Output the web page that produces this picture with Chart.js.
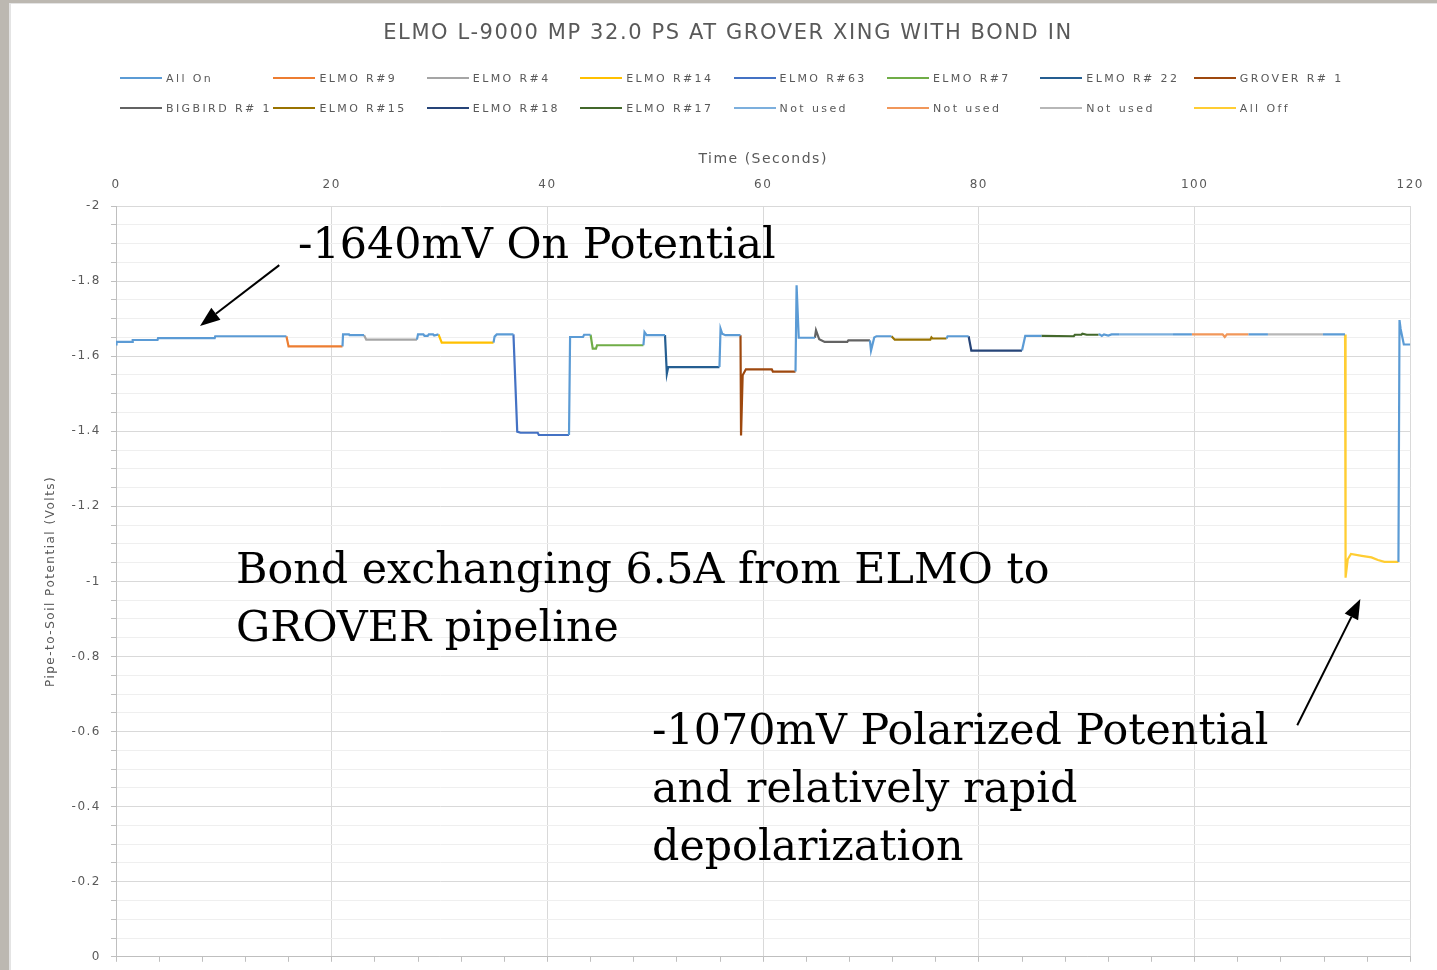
<!DOCTYPE html>
<html>
<head>
<meta charset="utf-8">
<title>ELMO L-9000 MP 32.0 PS AT GROVER XING WITH BOND IN</title>
<script src="https://cdn.jsdelivr.net/npm/chart.js@4.4.1/dist/chart.umd.min.js"></script>
<style>
  html, body { margin: 0; padding: 0; }
  body { width: 1437px; height: 970px; background: #bcb8b1; position: relative; overflow: hidden; }
  #panel { position: absolute; left: 9px; top: 3px; right: 0; bottom: 0; background: #fff; border-left: 2px solid #e4e4e4; border-top: 1px solid #e4e4e4; }
  #chart { position: absolute; left: 0; top: 0; }
  #title { position: absolute; left: 0; width: 1456px; top: 20px; text-align: center; font: 21px "DejaVu Sans", sans-serif; letter-spacing: 1.6px; color: #595959; white-space: nowrap; }
  #legend { position: absolute; left: 120px; top: 68px; width: 1240px; display: grid; grid-template-columns: repeat(8, 153.4px); grid-auto-rows: 30px; }
  .item { display: flex; align-items: center; height: 20px; font: 11px "DejaVu Sans", sans-serif; letter-spacing: 2.4px; color: #595959; white-space: nowrap; }
  .swatch { width: 42px; height: 2px; margin-right: 4px; flex: none; }
  .note { position: absolute; font: 42.8px "DejaVu Serif", serif; line-height: 58px; color: #000; white-space: nowrap; pointer-events: none; }
</style>
</head>
<body>
<div id="panel"></div>
<!-- canvas a few px larger than the window: the axes reserve label overhang on right/bottom -->
<canvas id="chart" width="1438" height="974"></canvas>
<div id="title">ELMO L-9000 MP 32.0 PS AT GROVER XING WITH BOND IN</div>
<div id="legend"></div>
<div class="note" style="left:298px; top:214px;">-1640mV On Potential</div>
<div class="note" style="left:236px; top:539px;">Bond exchanging 6.5A from ELMO to<br>GROVER pipeline</div>
<div class="note" style="left:652px; top:700px;">-1070mV Polarized Potential<br>and relatively rapid<br>depolarization</div>
<script>
  // ---- readings: [time (s), potential (V)], a null potential breaks the line ----
  const ALL_ON = [
    [0, -1.631], [0.05, -1.638], [1.5, -1.638], [1.55, -1.643], [3.85, -1.643], [3.9, -1.648],
    [9.15, -1.648], [9.2, -1.653], [15.8, -1.653], [15.8, null],
    [21.0, -1.626], [21.05, -1.658], [21.6, -1.658], [21.65, -1.656], [23.0, -1.656], [23.0, null],
    [27.9, -1.644], [28.0, -1.658], [28.5, -1.658], [28.6, -1.654], [28.9, -1.654], [29.0, -1.658],
    [29.4, -1.658], [29.5, -1.655], [29.9, -1.658], [29.9, null],
    [35.0, -1.636], [35.1, -1.652], [35.3, -1.658], [36.85, -1.658], [36.85, null],
    [42.0, -1.390], [42.1, -1.651], [43.3, -1.651], [43.4, -1.657], [44.0, -1.657], [44.0, null],
    [48.9, -1.629], [49.0, -1.664], [49.2, -1.656], [50.9, -1.656], [50.9, null],
    [55.95, -1.571], [56.05, -1.673], [56.2, -1.660], [56.5, -1.656], [57.9, -1.656], [57.9, null],
    [63.0, -1.559], [63.1, -1.789], [63.3, -1.649], [64.8, -1.649], [64.8, null],
    [69.9, -1.642], [70.0, -1.615], [70.3, -1.650], [70.5, -1.653], [71.9, -1.653], [71.9, null],
    [77.0, -1.647], [77.1, -1.653], [79.05, -1.653], [79.05, null],
    [84.0, -1.615], [84.3, -1.654], [85.8, -1.654], [85.8, null],
    [91.1, -1.657], [91.2, -1.658], [91.4, -1.654], [91.6, -1.658], [92.0, -1.655], [92.3, -1.658],
    [93.0, -1.658], [93.0, null],
    [98.0, -1.658], [99.75, -1.658], [99.75, null],
    [105.0, -1.658], [106.8, -1.658], [106.8, null],
    [111.9, -1.658], [113.95, -1.658], [113.95, null],
    [118.9, -1.052], [119.0, -1.696], [119.1, -1.673], [119.4, -1.631], [120, -1.631]
  ];
  const ELMO_R9 = [[15.8, -1.653], [16.0, -1.626], [21.0, -1.626]];
  const ELMO_R4 = [[23.0, -1.656], [23.2, -1.644], [27.9, -1.644]];
  const ELMO_R14 = [[29.9, -1.658], [30.2, -1.636], [35.0, -1.636]];
  const ELMO_R63 = [[36.85, -1.658], [37.2, -1.399], [37.5, -1.396], [39.1, -1.396], [39.2, -1.390], [42.0, -1.390]];
  const ELMO_R7 = [[44.0, -1.657], [44.2, -1.620], [44.5, -1.620], [44.6, -1.629], [48.9, -1.629]];
  const ELMO_R22 = [[50.9, -1.656], [51.07, -1.553], [51.2, -1.571], [55.95, -1.571]];
  const GROVER_R1 = [[57.9, -1.656], [57.95, -1.389], [58.1, -1.549], [58.4, -1.565], [60.8, -1.565], [60.9, -1.559], [63.0, -1.559]];
  const BIGBIRD_R1 = [[64.8, -1.649], [64.9, -1.669], [65.2, -1.645], [65.7, -1.638], [67.8, -1.638], [67.9, -1.642], [69.9, -1.642]];
  const ELMO_R15 = [[71.9, -1.653], [72.2, -1.644], [75.5, -1.644], [75.6, -1.650], [75.7, -1.647], [77.0, -1.647]];
  const ELMO_R18 = [[79.05, -1.653], [79.3, -1.615], [84.0, -1.615]];
  const ELMO_R17 = [[85.8, -1.654], [88.8, -1.653], [88.9, -1.657], [89.5, -1.657], [89.6, -1.660], [90.0, -1.657], [91.1, -1.657]];
  const NOT_USED_1 = [[93.0, -1.658], [98.0, -1.658]];
  const NOT_USED_2 = [[99.75, -1.658], [102.6, -1.658], [102.8, -1.651], [103.0, -1.658], [105.0, -1.658]];
  const NOT_USED_3 = [[106.8, -1.658], [111.9, -1.658]];
  const ALL_OFF = [[113.95, -1.658], [114.0, -1.010], [114.2, -1.059], [114.5, -1.073], [115.5, -1.068],
    [116.4, -1.064], [117.0, -1.057], [117.6, -1.052], [118.9, -1.052]];

  const SERIES_NAMES = ["All On", "ELMO R#9", "ELMO R#4", "ELMO R#14", "ELMO R#63", "ELMO R#7", "ELMO R# 22", "GROVER R# 1",
    "BIGBIRD R# 1", "ELMO R#15", "ELMO R#18", "ELMO R#17", "Not used", "Not used", "Not used", "All Off"];
  const SERIES_DATA = [ALL_ON, ELMO_R9, ELMO_R4, ELMO_R14, ELMO_R63, ELMO_R7, ELMO_R22, GROVER_R1,
    BIGBIRD_R1, ELMO_R15, ELMO_R18, ELMO_R17, NOT_USED_1, NOT_USED_2, NOT_USED_3, ALL_OFF];
  const SERIES_COLORS = ["#5B9BD5", "#ED7D31", "#A5A5A5", "#FFC000", "#4472C4", "#70AD47", "#255E91", "#9E480E",
    "#636363", "#997300", "#264478", "#43682B", "#7CAFDD", "#F1975A", "#B7B7B7", "#FFCD33"];

  // axis ranges / tick steps
  const X_MIN = 0, X_MAX = 120, X_STEP = 20, X_MINOR = 4;
  const Y_MIN = -2, Y_MAX = 0, Y_STEP = 0.2, Y_MINOR = 0.05;

  // callout arrows in data coordinates: tail -> head
  const ARROWS = [
    { from: [15.14, -1.8425], to: [7.79, -1.6804] },
    { from: [109.52, -0.6168], to: [115.37, -0.9533] }
  ];

  const GRAY_TEXT = "#595959";

  const datasets = SERIES_DATA.map((pts, i) => ({
    label: SERIES_NAMES[i],
    data: pts.map(p => ({ x: p[0], y: p[1] })),
    borderColor: SERIES_COLORS[i],
    backgroundColor: SERIES_COLORS[i],
    borderWidth: 2.2,
    pointRadius: 0,
    tension: 0,
    spanGaps: false,
    fill: false
  }));

  // legend laid out like the spreadsheet one: 8 fixed columns
  const legendEl = document.getElementById("legend");
  datasets.forEach(ds => {
    const item = document.createElement("div");
    item.className = "item";
    const sw = document.createElement("span");
    sw.className = "swatch";
    sw.style.background = ds.borderColor;
    item.appendChild(sw);
    item.appendChild(document.createTextNode(ds.label));
    legendEl.appendChild(item);
  });

  const spacing = {
    id: "spacing",
    beforeInit(chart) { chart.ctx.letterSpacing = "1.5px"; },
    beforeUpdate(chart) { chart.ctx.letterSpacing = "1.5px"; }
  };

  const arrows = {
    id: "arrows",
    afterDatasetsDraw(chart) {
      const { ctx } = chart;
      const xs = chart.scales.x, ys = chart.scales.y;
      ctx.save();
      ctx.strokeStyle = "#000";
      ctx.fillStyle = "#000";
      ctx.lineWidth = 2;
      for (const a of ARROWS) {
        const x0 = xs.getPixelForValue(a.from[0]), y0 = ys.getPixelForValue(a.from[1]);
        const x1 = xs.getPixelForValue(a.to[0]), y1 = ys.getPixelForValue(a.to[1]);
        const ang = Math.atan2(y1 - y0, x1 - x0);
        const head = 20, half = 7.5;
        const bx = x1 - head * Math.cos(ang), by = y1 - head * Math.sin(ang);
        ctx.beginPath();
        ctx.moveTo(x0, y0);
        ctx.lineTo(bx, by);
        ctx.stroke();
        ctx.beginPath();
        ctx.moveTo(x1, y1);
        ctx.lineTo(bx + half * Math.sin(ang), by - half * Math.cos(ang));
        ctx.lineTo(bx - half * Math.sin(ang), by + half * Math.cos(ang));
        ctx.closePath();
        ctx.fill();
      }
      ctx.restore();
    }
  };

  Chart.defaults.font.family = "'DejaVu Sans', sans-serif";
  Chart.defaults.color = GRAY_TEXT;

  new Chart(document.getElementById("chart"), {
    type: "line",
    data: { datasets },
    plugins: [spacing, arrows],
    options: {
      responsive: false,
      animation: false,
      layout: { padding: { left: 10, right: 24, top: 120, bottom: 11 } },
      plugins: {
        legend: { display: false },
        title: { display: false },
        tooltip: { enabled: false }
      },
      scales: {
        x: {
          type: "linear",
          position: "top",
          min: X_MIN,
          max: X_MAX,
          ticks: { stepSize: X_STEP, padding: 14, font: { size: 12 }, color: GRAY_TEXT },
          grid: { color: "#d9d9d9", drawTicks: false },
          border: { display: false },
          title: { display: true, text: "Time (Seconds)", font: { size: 14 }, color: GRAY_TEXT, padding: { top: 31, bottom: 0 } },
          afterFit: s => { s.height = 86; }
        },
        x2: {
          type: "linear",
          position: "bottom",
          min: X_MIN,
          max: X_MAX,
          ticks: { stepSize: X_MINOR, autoSkip: false, padding: 0, callback: () => "" },
          grid: { drawOnChartArea: false, tickLength: 5, tickColor: "#bfbfbf" },
          border: { color: "#bfbfbf" },
          afterFit: s => { s.height = 0; }
        },
        y: {
          type: "linear",
          reverse: true,
          min: Y_MIN,
          max: Y_MAX,
          ticks: {
            stepSize: Y_MINOR,
            autoSkip: false,
            padding: 10,
            font: { size: 12 },
            color: GRAY_TEXT,
            callback: v => (Math.round(v * 100) % Math.round(Y_STEP * 100) === 0 ? String(Math.round(v * 10) / 10) : "")
          },
          grid: {
            color: c => (c.tick && Math.round(c.tick.value * 100) % Math.round(Y_STEP * 100) === 0 ? "#d9d9d9" : "#efefef"),
            tickColor: "#bfbfbf",
            tickLength: 5
          },
          border: { color: "#bfbfbf" },
          title: { display: true, text: "Pipe-to-Soil Potential (Volts)", font: { size: 12 }, color: GRAY_TEXT, padding: { top: 34, bottom: 0 } },
          afterFit: s => { s.width = 106; }
        }
      }
    }
  });
</script>
</body>
</html>
